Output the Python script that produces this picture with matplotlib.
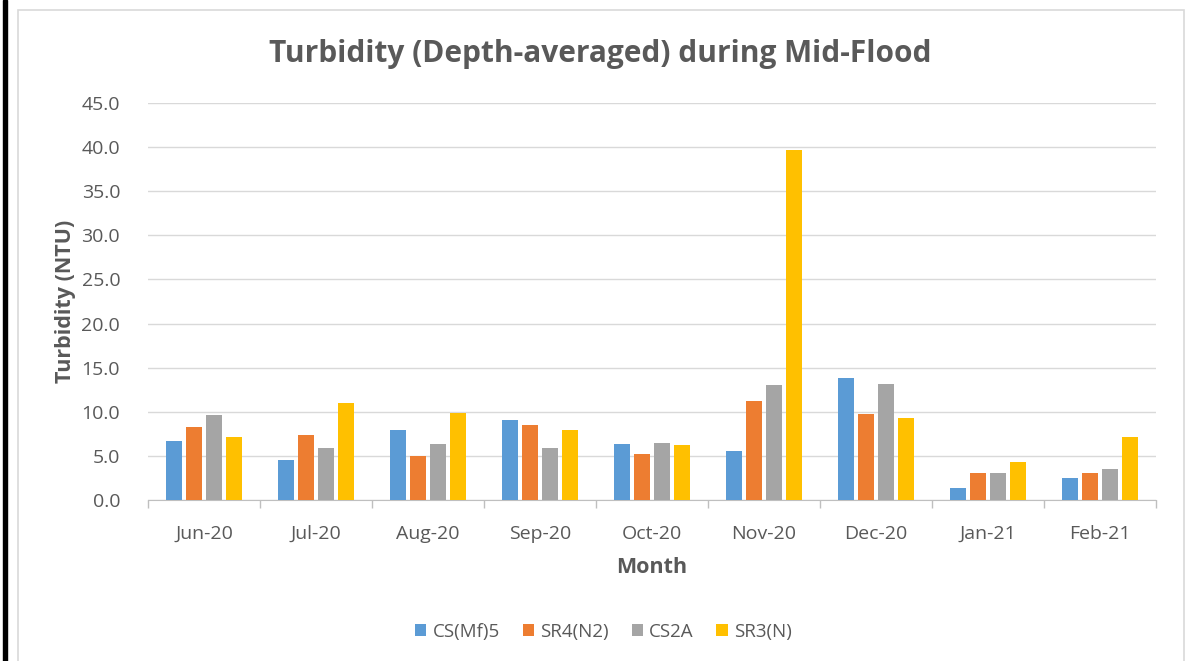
import numpy as np
import matplotlib.pyplot as plt
from matplotlib.patches import Rectangle

# Data
months = ['Jun-20', 'Jul-20', 'Aug-20', 'Sep-20', 'Oct-20', 'Nov-20', 'Dec-20', 'Jan-21', 'Feb-21']
cs_mf5 = [6.7, 4.5, 7.9, 9.1, 6.4, 5.5, 13.8, 1.4, 2.5]
sr4_n2 = [8.3, 7.4, 5.0, 8.5, 5.2, 11.2, 9.8, 3.1, 3.1]
cs2a = [9.6, 5.9, 6.4, 5.9, 6.5, 13.0, 13.2, 3.1, 3.5]
sr3_n = [7.1, 11.0, 9.9, 7.9, 6.2, 39.7, 9.3, 4.3, 7.1]

series_names = ['CS(Mf)5', 'SR4(N2)', 'CS2A', 'SR3(N)']
colors = ['#5B9BD5', '#ED7D31', '#A5A5A5', '#FFC000']

plt.rcParams['font.family'] = ['Open Sans', 'DejaVu Sans']
text_col = '#595959'

fig = plt.figure(figsize=(12, 6.61), dpi=100)

# black strip at left edge and light chart frame
fig.patches.append(Rectangle((3 / 1200, 0), 4 / 1200, 1, transform=fig.transFigure,
                             color='black', zorder=10))
fig.patches.append(Rectangle((18 / 1200, -0.05), 1166 / 1200, 1 - 10 / 661 + 0.05,
                             transform=fig.transFigure, fill=False,
                             edgecolor='#D9D9D9', linewidth=1.2))

ax = fig.add_axes([0.1233, 0.2436, 0.84, 0.6006])

x = np.arange(len(months))
width = 0.14
step = 0.179
for i, (vals, name) in enumerate(zip([cs_mf5, sr4_n2, cs2a, sr3_n], series_names)):
    ax.bar(x + (i - 1.5) * step, vals, width, color=colors[i], label=name, zorder=3)

ax.set_xlim(-0.5, len(months) - 0.5)
ax.set_ylim(0, 45)
ax.set_yticks(np.arange(0, 46, 5))
ax.set_yticklabels([f'{v:.1f}' for v in np.arange(0, 46, 5)])
ax.grid(axis='y', color='#D9D9D9', linewidth=1, zorder=0)

ax.set_xticks(x)
ax.set_xticklabels(months)
ax.set_xticks(np.arange(-0.5, len(months), 1), minor=True)
ax.tick_params(axis='x', which='major', length=0, pad=18, labelsize=14, labelcolor=text_col)
ax.tick_params(axis='x', which='minor', length=6, color='#BFBFBF', width=1)
ax.tick_params(axis='y', length=0, pad=20, labelsize=14, labelcolor=text_col)

for side in ['top', 'right', 'left']:
    ax.spines[side].set_visible(False)
ax.spines['bottom'].set_color('#BFBFBF')

ax.set_xlabel('Month', fontsize=15.5, fontweight='bold', color=text_col, labelpad=10)
ax.set_ylabel('Turbidity (NTU)', fontsize=15.5, fontweight='bold', color=text_col, labelpad=4)

fig.text(0.5, 1 - 54 / 661, 'Turbidity (Depth-averaged) during Mid-Flood', ha='center',
         va='center', fontsize=21.5, fontweight='bold', color=text_col)

fig.legend(loc='center', bbox_to_anchor=(0.503, 1 - 632 / 661), ncol=4, frameon=False,
           fontsize=13.5, handlelength=0.6, handleheight=0.6, handletextpad=0.35,
           columnspacing=1.2, labelcolor=text_col)

fig.savefig('out.png', dpi=100, facecolor='white')
